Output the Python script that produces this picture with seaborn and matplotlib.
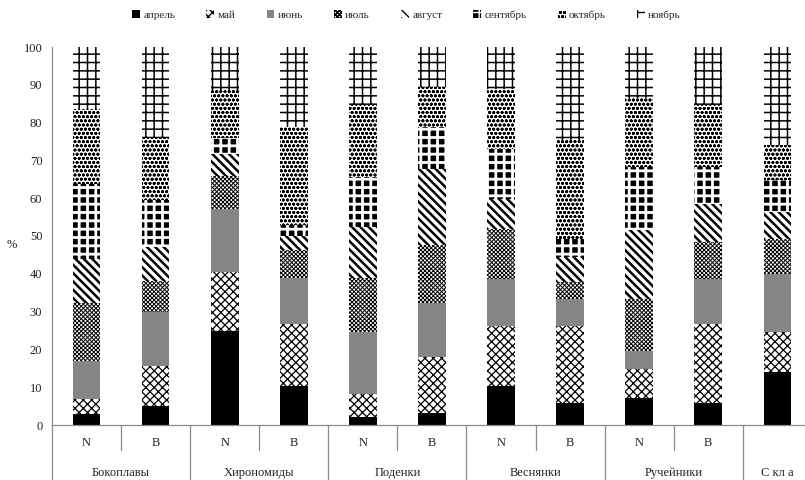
import matplotlib
matplotlib.use("Agg")
import matplotlib.pyplot as plt
from matplotlib.patches import Patch
import matplotlib.transforms as mtransforms
import numpy as np
import pandas as pd
import seaborn as sns

# ---------------- data ----------------
groups = ["Бокоплавы", "Хирономиды", "Поденки", "Веснянки", "Ручейники", "С кл а"]
sub_labels = ["N", "B", "N", "B", "N", "B", "N", "B", "N", "B", ""]
bar_ids = ["Бок N", "Бок B", "Хир N", "Хир B", "Под N", "Под B",
           "Вес N", "Вес B", "Руч N", "Руч B", "Скла N"]
months = ["апрель", "май", "июнь", "июль", "август", "сентябрь", "октябрь", "ноябрь"]

april = [2.8, 5.0, 24.9, 10.3, 2.1, 3.3, 10.3, 5.9, 7.2, 5.9, 13.9]
may = [4.0, 10.6, 15.5, 16.4, 6.2, 14.6, 16.0, 20.4, 7.6, 20.8, 10.6]
june = [10.2, 14.2, 16.8, 12.3, 16.2, 14.5, 12.3, 7.0, 4.8, 11.9, 15.5]
july = [15.4, 8.4, 8.8, 7.2, 14.5, 15.1, 13.3, 4.4, 13.7, 9.8, 9.2]
august = [11.6, 8.8, 5.8, 3.9, 13.3, 20.3, 8.0, 6.7, 18.2, 10.1, 7.1]
september = [19.8, 12.4, 4.0, 2.7, 13.3, 11.1, 13.2, 4.8, 16.8, 9.8, 8.4]
october = [19.9, 16.4, 12.8, 26.1, 19.0, 10.6, 15.9, 26.1, 18.1, 16.3, 9.3]
november = [16.3, 24.2, 11.4, 21.1, 15.4, 10.5, 11.0, 24.7, 13.6, 15.4, 26.0]
series = [april, may, june, july, august, september, october, november]

# ---------------- styles ----------------
styles = [
    dict(color="black", hatch=None, hcol="black", hlw=1.0),
    dict(color="white", hatch="xxxx", hcol="black", hlw=0.9),
    dict(color="#858585", hatch=None, hcol="black", hlw=1.0),
    dict(color="white", hatch="xxxxxxxx", hcol="black", hlw=0.7),
    dict(color="white", hatch="\\\\\\\\", hcol="black", hlw=1.8),
    dict(color="black", hatch="++", hcol="white", hlw=2.0),
    dict(color="white", hatch="oooo", hcol="black", hlw=0.9),
    dict(color="white", hatch="++", hcol="black", hlw=1.1),
]

sns.set_style("white")
plt.rcParams["font.family"] = ["Liberation Serif", "DejaVu Serif"]
plt.rcParams["hatch.color"] = "black"

fig = plt.figure(figsize=(8.05, 4.8), dpi=100)
ax = fig.add_axes([52 / 805, 55 / 480, 1 - 52 / 805, (425 - 47) / 480])

bottom = np.zeros(len(bar_ids))
for m, vals, st in zip(months, series, styles):
    df = pd.DataFrame({"bar": bar_ids, "value": vals})
    n_before = len(ax.patches)
    sns.barplot(data=df, x="bar", y="value", order=bar_ids, ax=ax,
                bottom=bottom.copy(), width=0.4, saturation=1, errorbar=None,
                color=st["color"], edgecolor=st["hcol"], linewidth=0,
                hatch=st["hatch"])
    for p in ax.patches[n_before:]:
        p.set_facecolor(st["color"])
        p.set_edgecolor(st["hcol"])
        p.set_linewidth(0)
        if hasattr(p, "set_hatch_linewidth"):
            p.set_hatch_linewidth(st["hlw"])
        else:
            p._hatch_linewidth = st["hlw"]
    bottom += np.array(vals)

ax.set_xlim(-0.5, 10.4)
ax.set_ylim(0, 100)
ax.set_yticks(np.arange(0, 101, 10))
ax.set_xticks([])
ax.set_xlabel("")
ax.set_ylabel("")
for s in ["top", "right"]:
    ax.spines[s].set_visible(False)
for s in ["left", "bottom"]:
    ax.spines[s].set_color("#8a8a8a")
    ax.spines[s].set_linewidth(0.9)
ax.tick_params(axis="y", direction="out", length=3, width=0.8, color="#8a8a8a",
               labelsize=9, labelcolor="#222222", pad=4)

fig.text(12 / 805, 1 - 245 / 480, "%", fontsize=9, color="#222222",
         ha="center", va="center")

# two-level category axis
trans = mtransforms.blended_transform_factory(ax.transData, ax.transAxes)
ax_h = 378.0
for i, lab in enumerate(sub_labels):
    if lab:
        ax.text(i, -18 / ax_h, lab, transform=trans, ha="center", va="center",
                fontsize=9, color="#222222")
group_centers = [0.5, 2.5, 4.5, 6.5, 8.5, 10.0]
for gx, g in zip(group_centers, groups):
    ax.text(gx, -48 / ax_h, g, transform=trans, ha="center", va="center",
            fontsize=9, color="#222222")
for dx in [-0.5, 1.5, 3.5, 5.5, 7.5, 9.5]:
    ax.plot([dx, dx], [0, -55 / ax_h], transform=trans, color="#8a8a8a",
            lw=0.9, clip_on=False)
for dx in [0.5, 2.5, 4.5, 6.5, 8.5]:
    ax.plot([dx, dx], [0, -25 / ax_h], transform=trans, color="#8a8a8a",
            lw=0.9, clip_on=False)

handles = []
for m, st in zip(months, styles):
    h = Patch(facecolor=st["color"], edgecolor=st["hcol"], linewidth=0,
              hatch=st["hatch"], label=m)
    handles.append(h)
leg = fig.legend(handles=handles, loc="center", bbox_to_anchor=(0.505, 1 - 15 / 480),
                 ncol=8, frameon=False, fontsize=8, handlelength=0.7,
                 handleheight=0.7, handletextpad=0.3, columnspacing=2.8)

fig.savefig("out.png", dpi=100)
